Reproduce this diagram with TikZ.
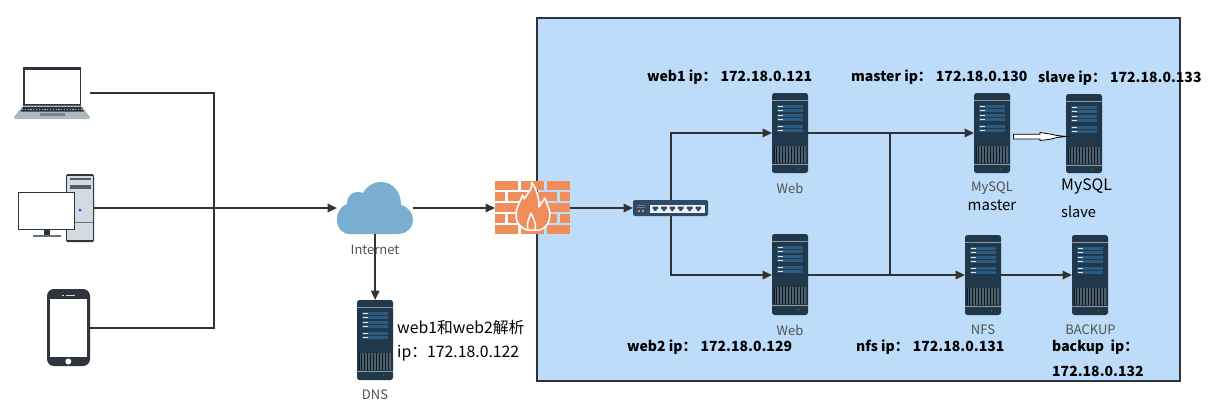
\documentclass[tikz,border=0pt]{standalone}
\usepackage{fontspec}
\setmainfont{Noto Sans CJK SC}
\usetikzlibrary{arrows.meta}
\definecolor{panelblue}{HTML}{BDDCF9}
\definecolor{srvdark}{HTML}{20384A}
\definecolor{srvpanel}{HTML}{2B5B80}
\definecolor{srvband}{HTML}{8C9BA5}
\definecolor{frame}{HTML}{2B3640}
\definecolor{conn}{HTML}{333333}
\definecolor{labelgrey}{HTML}{505050}
\definecolor{brick}{HTML}{F08E5B}
\definecolor{cloudblue}{HTML}{7AAED0}
\definecolor{swdark}{HTML}{2F4A66}
\definecolor{lapgrey}{HTML}{AEB8BF}
\definecolor{towergrey}{HTML}{D3DBE2}
\definecolor{phonedark}{HTML}{30343F}
\tikzset{
 x=1pt,y=-1pt,
 conline/.style={conn,line width=1.8pt},
 conarrow/.style={conn,line width=1.8pt,-{Triangle[length=9.5pt,width=8.5pt]}},
 greylabel/.style={text=labelgrey,font=\fontsize{13}{15}\selectfont,inner sep=0pt},
 boldlabel/.style={text=black,font=\fontsize{14}{16}\selectfont\bfseries,inner sep=0pt,anchor=west},
 plainlabel/.style={text=black,font=\fontsize{15.8}{18}\selectfont,inner sep=0pt,anchor=west},
}
% server: name, left x, top y, bottom y
\newcommand{\serverbox}[4]{%
 \path[fill=srvdark,rounded corners=2.5pt] (#2,#3) rectangle (#2+36,#4);
 \fill[srvband] (#2,#3+6.8) rectangle (#2+36,#3+8.2);
 \foreach \dy in {12.3,16.3,21.3,25.3,32.2,36.3}{%
  \fill[srvpanel] (#2+5,#3+\dy) rectangle (#2+31,#3+\dy+3);
  \fill[white!85!srvpanel] (#2+6,#3+\dy+1) rectangle (#2+10.5,#3+\dy+2);
 }
 \fill[black!55!srvdark] (#2+2,#3+53) rectangle (#2+34,#3+69.5);
 \foreach \dx in {3,4.5,...,33}{\fill[srvdark!80!white] (#2+\dx,#3+53) rectangle (#2+\dx+.5,#3+69.5);}
 \fill[srvband] (#2,#3+71) rectangle (#2+36,#3+72.2);
 \fill[green!55!black] (#2+26.5,#3+75.5) circle (1.2);
 \fill[red!60!black] (#2+31.5,#3+75.5) circle (1.2);
 \node[inner sep=0pt,minimum width=36pt,minimum height=#4pt-#3pt,anchor=north west] (#1) at (#2,#3) {};
}
\begin{document}
\begin{tikzpicture}
\useasboundingbox (0,0) rectangle (1213,413);
\fill[white] (0,0) rectangle (1213,413);
% panel
\node[draw=frame,fill=panelblue,line width=1.8pt,minimum width=643pt,minimum height=363pt,anchor=north west,inner sep=0pt] (zone) at (536,17) {};

% laptop
\fill[frame] (23.3,67) rectangle (81.3,105.5);
\fill[white] (25,69.5) rectangle (79.5,104);
\fill[lapgrey] (23.3,105.5) -- (81.3,105.5) -- (90,117) -- (90,118) -- (88,119) -- (16,119) -- (14,118) -- (14,117) -- cycle;
\fill[frame] (23,107) -- (81,107) -- (84,111.5) -- (20.5,111.5) -- cycle;
\draw[lapgrey,line width=.6pt,dash pattern=on 1.2pt off 1.6pt] (22,109.2) -- (83,109.2);
\fill[lapgrey!70!black] (40,113) rectangle (65,116.3);
\node[inner sep=0pt,minimum width=76pt,minimum height=52pt,anchor=north west] (laptop) at (14,67) {};

% desktop
\fill[frame,rounded corners=1.5pt] (66,174) rectangle (94,242);
\fill[towergrey] (67,175.5) rectangle (93,240);
\fill[frame!80!white] (70,178) rectangle (91,180);
\fill[frame!80!white] (70,185) rectangle (91,189);
\fill[frame!70!white] (67,222) rectangle (93,222.7);
\fill[blue!70!cyan] (80,210) circle (1.5);
\fill[frame] (18,192) rectangle (75,230);
\fill[white] (19,193) rectangle (74,229);
\fill[frame] (44,230) rectangle (49.5,235);
\fill[frame!70!white] (33,235) rectangle (60.5,237);
\node[inner sep=0pt,minimum width=76pt,minimum height=68pt,anchor=north west] (desktop) at (18,174) {};

% phone
\fill[phonedark,rounded corners=7pt] (47,289) rectangle (90,366);
\fill[white] (50,299) rectangle (87,357);
\fill[white] (68.3,361.5) circle (3);
\fill[white!80!phonedark] (66,295) rectangle (75,295.7);
\fill[white!80!phonedark] (62,295) rectangle (63.5,295.7);
\node[inner sep=0pt,minimum width=43pt,minimum height=77pt,anchor=north west] (phone) at (47,289) {};

% cloud
\fill[cloudblue] (350,234) .. controls (342,234) and (337,228) .. (337,220)
 .. controls (337,212) and (341,206) .. (347,204)
 .. controls (347,196) and (352,192) .. (357,192)
 .. controls (359,192) and (361,192) .. (363,193)
 .. controls (367,186) and (373,182) .. (381,182)
 .. controls (392,182) and (401,191) .. (401,205)
 .. controls (409,207) and (413,214) .. (413,220)
 .. controls (413,228) and (406,234) .. (399,234) -- cycle;
\node[inner sep=0pt,minimum width=76pt,minimum height=52pt,anchor=north west] (cloud) at (337,182) {};
\node[greylabel] (internetlabel) at (375,249.5) {Internet};

% firewall
\foreach \xa/\xb/\ya/\yb in {495/518/181/189.7,521/544/181/189.7,547/570/181/189.7,
  495/505/192/201,508/531/192/201,534/557/192/201,559.5/570/192/201,
  495/518/203/212,521/544/203/212,547/570/203/212,
  495/505/214/223,508/531/214/223,534/557/214/223,559.5/570/214/223,
  495/518/225/234,521/544/225/234,547/570/225/234}{%
  \fill[brick] (\xa,\ya) rectangle (\xb,\yb);}
\path[fill=brick,draw=white,line width=1.5pt,line join=round] (531.7,182.5) .. controls (533,188) and (528,193) .. (524,199)
 .. controls (523.5,197) and (523,196) .. (522.5,195)
 .. controls (520,203) and (516,207) .. (516,215)
 .. controls (516,223) and (521,228) .. (527,230)
 -- (540,230)
 .. controls (546,228) and (550,222) .. (550,215)
 .. controls (550,208) and (546,204) .. (545,198)
 .. controls (543,201) and (541,204) .. (539,207)
 .. controls (539,199) and (537,189) .. (531.7,182.5) -- cycle;
\draw[white,line width=1.5pt,line join=round] (528,230) .. controls (526,224) and (529,218) .. (531,213) .. controls (533,218) and (537,224) .. (535,230);

% bounding node of the firewall
\node[inner sep=0pt,minimum width=75pt,minimum height=53pt,anchor=north west] (firewall) at (495,181) {};

% switch
\fill[swdark,rounded corners=1.5pt] (633,200) rectangle (708,216);
\fill[white!92!swdark] (649.7,204.7) rectangle (705,213.3);
\foreach \dx in {655.3,664,672.3,680.7,689.7,698.3}{%
 \fill[swdark] (\dx-2.8,206.6) -- (\dx+2.8,206.6) -- (\dx+2.8,209) -- (\dx+1.4,209) -- (\dx+1.4,210.8) -- (\dx-1.4,210.8) -- (\dx-1.4,209) -- (\dx-2.8,209) -- cycle;}
\fill[brick] (637.7,209.7) rectangle (639.7,211.7);
\fill[brick] (641.7,209.7) rectangle (643.7,211.7);
\fill[swdark!70!white] (637,205) rectangle (645,205.6);
\fill[swdark!70!white] (637,207.3) rectangle (645,207.9);
\node[inner sep=0pt,minimum width=75pt,minimum height=16pt,anchor=north west] (switch) at (633,200) {};

% servers
\serverbox{web1}{772}{93}{173}
\serverbox{web2}{772}{234}{315}
\serverbox{master}{974}{93}{173}
\serverbox{slave}{1066}{94}{173}
\serverbox{nfs}{965}{235}{315}
\serverbox{backup}{1072}{235}{315}
\serverbox{dns}{357}{300}{380}

% connectors
\coordinate (busleft) at (214,93);
\coordinate (busbottom) at (214,328);
\coordinate (trunktop) at (890,133);
\coordinate (trunkbottom) at (890,275);
\draw[conline] (laptop.east|-busleft) -- (busleft) -- (busbottom) -- (phone.east|-busbottom);
\draw[conarrow] (desktop.east|-0,208) -- (cloud.west|-0,208);
\draw[conarrow] (cloud.east|-0,208) -- (firewall.west|-0,208);
\draw[conarrow] (cloud.south|-0,234) -- (dns.north);
\draw[conarrow] (firewall.east|-0,208) -- (switch.west|-0,208);
\draw[conarrow] (671,200) -- (671,133) -- (web1.west|-trunktop);
\draw[conarrow] (671,216) -- (671,275) -- (web2.west|-trunkbottom);
\draw[conarrow] (web1.east|-trunktop) -- (master.west|-trunktop);
\draw[conarrow] (web2.east|-trunkbottom) -- (nfs.west|-trunkbottom);
\draw[conarrow] (nfs.east|-trunkbottom) -- (backup.west|-trunkbottom);
\draw[conline] (trunktop) -- (trunkbottom);

% hollow arrow
\draw[black,fill=white,line width=.8pt] (1013.5,134.3) -- (1040,134.3) -- (1040,132.5) -- (1050,134) -- (1057,135.5) -- (1066.5,136.5) -- (1057,137.5) -- (1050,139.3) -- (1040,140.5) -- (1040,139) -- (1013.5,139) -- cycle;

% labels
\node[greylabel] (webalabel) at (790,188) {Web};
\node[greylabel] (webblabel) at (790,330) {Web};
\node[greylabel] (mysqlm) at (992,188.5) {MySQL};
\node[text=black,font=\fontsize{15}{17}\selectfont,inner sep=0pt] (masterlabel) at (992,205.5) {master};
\node[text=black,font=\fontsize{15.8}{18}\selectfont,inner sep=0pt,anchor=west] (mysqls) at (1061,186) {MySQL};
\node[text=black,font=\fontsize{14.6}{17}\selectfont,inner sep=0pt,anchor=west] (slavelabel) at (1061,212) {slave};
\node[greylabel] (nfslabel) at (983,330) {NFS};
\node[greylabel] (backuplabel) at (1090.5,330) {BACKUP};
\node[greylabel] (dnslabel) at (375,395) {DNS};
\node[boldlabel] (ipa) at (647,77) {web1 ip：\hspace{4pt}172.18.0.121};
\node[boldlabel] (ipb) at (851,77) {master ip：\hspace{4pt}172.18.0.130};
\node[boldlabel] (ipc) at (1038,78) {slave ip：\hspace{4pt}172.18.0.133};
\node[boldlabel] (ipd) at (627,347) {web2 ip：\hspace{4pt}172.18.0.129};
\node[boldlabel] (ipe) at (856,347) {nfs ip：\hspace{4pt}172.18.0.131};
\node[boldlabel] (ipf) at (1052,347) {backup\ \ ip：};
\node[boldlabel] (ipg) at (1052,371.5) {172.18.0.132};
\node[plainlabel] (dnsa) at (397,328) {web1和web2解析};
\node[plainlabel] (dnsb) at (397,353) {ip：172.18.0.122};
\end{tikzpicture}
\end{document}
